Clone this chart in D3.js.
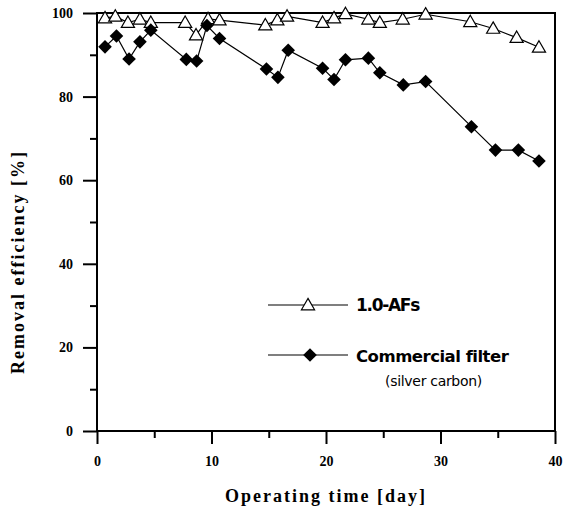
<!DOCTYPE html>
<html><head><meta charset="utf-8">
<script src="https://cdn.jsdelivr.net/npm/d3@7"></script>
<style>body{margin:0;background:#fff}</style>
</head><body>
<svg id="c" width="564" height="511"></svg>
<script>
const afsX = [0.7,1.6,2.7,3.75,4.7,7.7,8.65,9.7,10.7,14.7,15.75,16.6,19.7,20.7,21.7,23.7,24.7,26.7,28.7,32.6,34.6,36.65,38.6];
const afsY = [98.8,99.2,97.7,98.5,97.7,97.7,94.7,98.6,98.3,97.1,98.3,99.2,97.7,98.8,99.8,98.5,97.7,98.5,99.7,97.9,96.3,94.1,91.8];
const comX = [0.7,1.7,2.8,3.75,4.7,7.8,8.7,9.6,10.7,14.8,15.8,16.7,19.7,20.7,21.7,23.7,24.7,26.75,28.7,32.7,34.8,36.8,38.6];
const comY = [91.9,94.5,89.0,93.1,95.9,88.9,88.5,97.0,93.9,86.6,84.6,91.1,86.8,84.1,88.8,89.2,85.7,82.8,83.6,72.8,67.2,67.2,64.6];
const xTicks = [0,10,20,30,40];
const yTicks = [0,20,40,60,80,100];
const seriesNames = ["1.0-AFs","Commercial filter","(silver carbon)"];

const svg = d3.select("#c");
const L=97, R=555, T=13, B=431;
const x = d3.scaleLinear().domain([0,40]).range([L,R]);
const y = d3.scaleLinear().domain([0,100]).range([B,T]);
const serif = "'Liberation Serif','Times New Roman',serif";
const sans = "'DejaVu Sans',Verdana,sans-serif";

// frame
svg.append("rect").attr("x",L).attr("y",T).attr("width",R-L).attr("height",B-T)
  .attr("fill","none").attr("stroke","#000").attr("stroke-width",2);

// x axis
const xa = svg.append("g").attr("transform",`translate(0,${B})`)
  .call(d3.axisBottom(x).tickValues(xTicks).tickSize(13).tickPadding(12).tickFormat(d3.format("d")));
xa.select(".domain").remove();
xa.selectAll("line").attr("stroke-width",2);
xa.selectAll("text").attr("font-family",serif).attr("font-weight","bold").attr("font-size",14);
const xm = svg.append("g").attr("transform",`translate(0,${B})`)
  .call(d3.axisBottom(x).tickValues([5,15,25,35]).tickSize(7).tickFormat(""));
xm.select(".domain").remove(); xm.selectAll("line").attr("stroke-width",2);

// y axis
const ya = svg.append("g").attr("transform",`translate(${L},0)`)
  .call(d3.axisLeft(y).tickValues(yTicks).tickSize(14).tickPadding(10).tickFormat(d3.format("d")));
ya.select(".domain").remove();
ya.selectAll("line").attr("stroke-width",2);
ya.selectAll("text").attr("font-family",serif).attr("font-weight","bold").attr("font-size",14);
const ym = svg.append("g").attr("transform",`translate(${L},0)`)
  .call(d3.axisLeft(y).tickValues([10,30,50,70,90]).tickSize(7).tickFormat(""));
ym.select(".domain").remove(); ym.selectAll("line").attr("stroke-width",2);

// titles
svg.append("text").attr("x",(L+R)/2).attr("y",502).attr("text-anchor","middle")
  .attr("font-family",serif).attr("font-weight","bold").attr("font-size",18)
  .attr("letter-spacing",2).text("Operating time [day]");
svg.append("text").attr("transform",`translate(24,${(T+B)/2+40}) rotate(-90)`).attr("text-anchor","middle")
  .attr("font-family",serif).attr("font-weight","bold").attr("font-size",18)
  .attr("letter-spacing",2).text("Removal efficiency [%]");

// lines
const line = d3.line();
const afsPts = afsX.map((v,i)=>[x(v),y(afsY[i])]);
const comPts = comX.map((v,i)=>[x(v),y(comY[i])]);
svg.append("path").attr("d",line(afsPts)).attr("fill","none").attr("stroke","#000").attr("stroke-width",1.2);
svg.append("path").attr("d",line(comPts)).attr("fill","none").attr("stroke","#000").attr("stroke-width",1.2);

const tri = d3.symbol().type(d3.symbolTriangle).size(75);
const dia = "M0,-6.8L6.8,0L0,6.8L-6.8,0Z";
svg.selectAll(".tri").data(afsPts).join("path").attr("d",tri)
  .attr("transform",d=>`translate(${d[0]},${d[1]+1})`).attr("fill","#fff").attr("stroke","#000").attr("stroke-width",1.2);
svg.selectAll(".dia").data(comPts).join("path").attr("d",dia)
  .attr("transform",d=>`translate(${d[0]},${d[1]})`).attr("fill","#000");

// legend
const lg = svg.append("g");
lg.append("line").attr("x1",268).attr("x2",348).attr("y1",305).attr("y2",305).attr("stroke","#000").attr("stroke-width",1.2);
lg.append("path").attr("d",tri).attr("transform","translate(308,306)").attr("fill","#fff").attr("stroke","#000").attr("stroke-width",1.2);
lg.append("text").attr("x",356).attr("y",311).attr("font-family",sans)
  .attr("font-weight","bold").attr("font-size",17).attr("letter-spacing",-1.3).text(seriesNames[0]);
lg.append("line").attr("x1",268).attr("x2",348).attr("y1",355).attr("y2",355).attr("stroke","#000").attr("stroke-width",1.2);
lg.append("path").attr("d",dia).attr("transform","translate(310,355)").attr("fill","#000");
lg.append("text").attr("x",356).attr("y",362).attr("font-family",sans)
  .attr("font-weight","bold").attr("font-size",16.5).attr("letter-spacing",-0.5).text(seriesNames[1]);
lg.append("text").attr("x",385).attr("y",386).attr("font-family",sans)
  .attr("font-size",14).attr("letter-spacing",-0.3).text(seriesNames[2]);
</script>
</body></html>
